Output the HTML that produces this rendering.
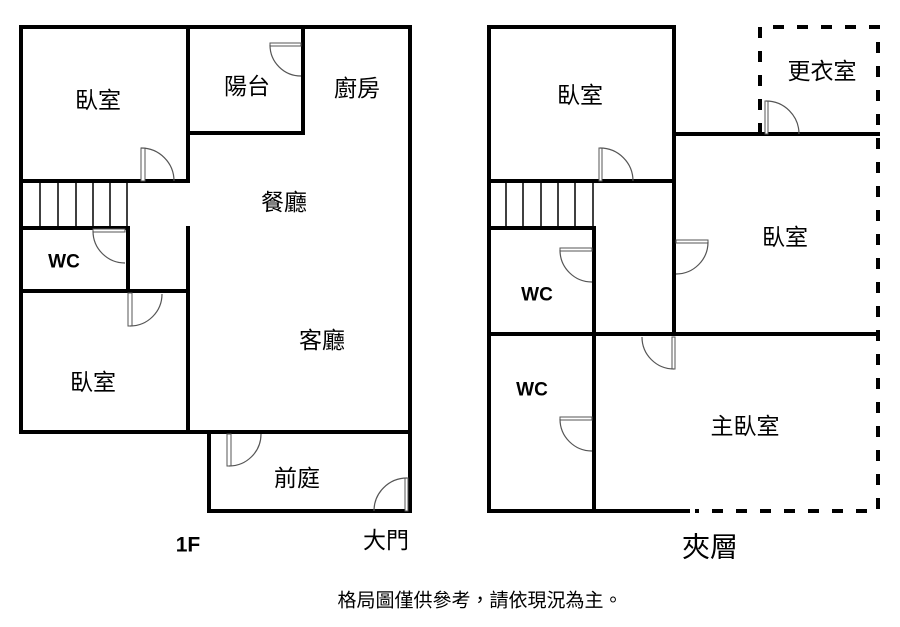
<!DOCTYPE html>
<html><head><meta charset="utf-8"><style>
html,body{margin:0;padding:0;background:#fff;}
svg{display:block;}
text{font-family:"Liberation Sans","Noto Sans CJK TC",sans-serif;fill:#000;}
.t{font-size:23px;text-anchor:middle;dominant-baseline:central;}
.b{font-weight:bold;font-size:19px;}
</style></head><body>
<svg width="900" height="627" viewBox="0 0 900 627" xmlns="http://www.w3.org/2000/svg">
<g stroke="#000" stroke-width="4" fill="none" stroke-linecap="square">
<!-- 1F -->
<path d="M21 27 H410 V511 H209 V432 H21 Z"/>
<path d="M21 432 H410"/>
<path d="M188 27 V181 H21"/>
<path d="M188 133 H303 V27"/>
<path d="M21 228 H128 V291"/>
<path d="M21 291 H188"/>
<path d="M188 228 V432"/>
<!-- mezz -->
<path d="M688 511 H489 V27 H674 V334"/>
<path d="M489 181 H674"/>
<path d="M674 134 H878"/>
<path d="M489 228 H594 V511"/>
<path d="M489 334 H878"/>
</g>
<g stroke="#000" stroke-width="4" fill="none" stroke-dasharray="11 13">
<path d="M760 134 V27 H878 V511 H695"/>
</g>
<g stroke="#000" stroke-width="1.5">
<path d="M40 183 V228 M58 183 V228 M76 183 V228 M93 183 V228 M110 183 V228 M127 183 V228"/>
<path d="M506 183 V228 M523 183 V228 M541 183 V228 M558 183 V228 M575 183 V228 M593 183 V228"/>
</g>
<g stroke="#555" stroke-width="1" fill="#fff">
<rect x="141" y="148" width="4" height="33"/>
<rect x="270" y="43" width="31" height="3"/>
<rect x="93" y="229" width="32" height="3"/>
<rect x="128" y="293" width="4" height="33"/>
<rect x="227" y="434" width="4" height="32"/>
<rect x="405" y="478" width="3" height="33"/>
<rect x="599" y="148" width="3" height="33"/>
<rect x="765" y="101" width="3" height="33"/>
<rect x="560" y="248" width="32" height="3"/>
<rect x="676" y="240" width="32" height="3"/>
<rect x="672" y="337" width="3" height="32"/>
<rect x="560" y="417" width="32" height="3"/>
</g>
<g stroke="#555" stroke-width="1.2" fill="none">
<path d="M141 148 A33 33 0 0 1 174 181"/>
<path d="M270 45 A31 31 0 0 0 301 76"/>
<path d="M93 231 A32 32 0 0 0 125 263"/>
<path d="M130 326 A32 32 0 0 0 162 294"/>
<path d="M229 466 A32 32 0 0 0 261 434"/>
<path d="M407 478 A33 33 0 0 0 374 511"/>
<path d="M600 148 A33 33 0 0 1 633 181"/>
<path d="M766 101 A33 33 0 0 1 799 134"/>
<path d="M560 250 A32 32 0 0 0 592 282"/>
<path d="M708 242 A32 32 0 0 1 676 274"/>
<path d="M674 369 A32 32 0 0 1 642 337"/>
<path d="M560 419 A32 32 0 0 0 592 451"/>
</g>
<text class="t" x="98" y="100">臥室</text>
<text class="t" x="247" y="86">陽台</text>
<text class="t" x="357" y="88">廚房</text>
<text class="t" x="284" y="202">餐廳</text>
<text class="t b" x="64" y="262">WC</text>
<text class="t" x="322" y="340">客廳</text>
<text class="t" x="93" y="382">臥室</text>
<text class="t" x="297" y="478">前庭</text>
<text class="t b" x="188" y="545" style="font-size:21px">1F</text>
<text class="t" x="386" y="540">大門</text>
<text class="t" x="580" y="95">臥室</text>
<text class="t" x="822" y="71">更衣室</text>
<text class="t" x="785" y="237">臥室</text>
<text class="t b" x="537" y="295">WC</text>
<text class="t b" x="532" y="390">WC</text>
<text class="t" x="745" y="426">主臥室</text>
<text class="t" x="710" y="547" style="font-size:28px">夾層</text>
<text class="t" x="480" y="601" style="font-size:19px">格局圖僅供參考，請依現況為主。</text>
</svg>
</body></html>
